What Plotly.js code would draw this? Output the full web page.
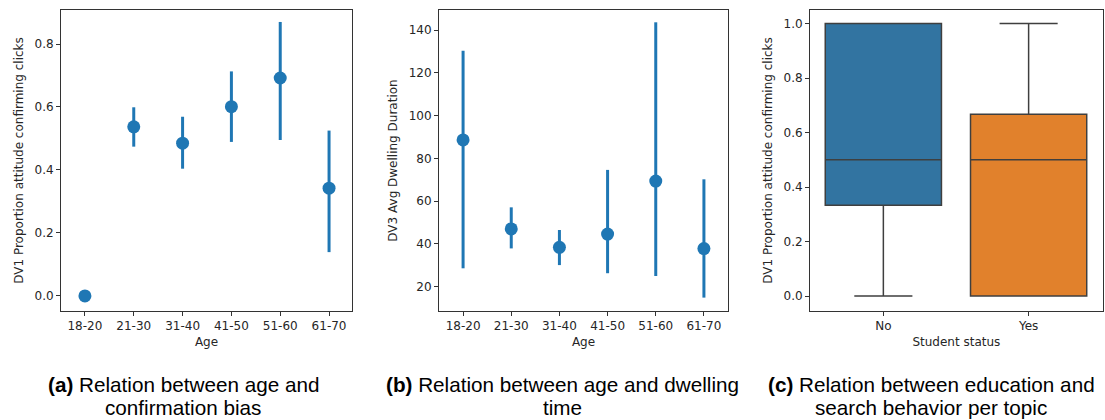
<!DOCTYPE html>
<html>
<head>
<meta charset="utf-8">
<script src="https://cdn.plot.ly/plotly-3.0.1.min.js"></script>
<style>html,body{margin:0;padding:0;background:#fff;}#chart{width:1105px;height:420px;}</style>
</head>
<body>
<div id="chart"></div>
<script>
// ---- data ----
const ageGroups = ["18-20", "21-30", "31-40", "41-50", "51-60", "61-70"];

// (a) DV1 proportion attitude confirming clicks by age
const dv1Mean = [0.0, 0.537, 0.485, 0.601, 0.692, 0.342];
const dv1CiLow = [0.0, 0.474, 0.404, 0.489, 0.495, 0.139];
const dv1CiHigh = [0.0, 0.599, 0.569, 0.713, 0.870, 0.525];

// (b) DV3 avg dwelling duration by age
const dv3Mean = [88.6, 47.0, 38.4, 44.6, 69.4, 37.8];
const dv3CiLow = [28.6, 37.9, 30.1, 26.3, 25.0, 14.9];
const dv3CiHigh = [130.3, 57.1, 46.5, 74.6, 143.6, 70.2];

// (c) DV1 by student status (box stats)
const studentStatus = ["No", "Yes"];
const boxQ1 = [0.333, 0.0];
const boxMedian = [0.5, 0.5];
const boxQ3 = [1.0, 0.667];
const boxLowFence = [0.0, 0.0];
const boxHighFence = [1.0, 1.0];
const boxColors = ["#3274a1", "#e1812c"];

const captions = [
  ["<b>(a)</b> Relation between age and", "confirmation bias"],
  ["<b>(b)</b> Relation between age and dwelling", "time"],
  ["<b>(c)</b> Relation between education and", "search behavior per topic"]
];

// ---- plot ----
const blue = "#1f77b4";
const txt = "#262626";
const FS = 12;
function errTrace(y, lo, hi, xa, ya) {
  return {
    type: "scatter", mode: "markers", x: ageGroups, y: y, xaxis: xa, yaxis: ya,
    marker: {color: blue, size: 13},
    error_y: {type: "data", symmetric: false,
      array: y.map((v, i) => hi[i] - v),
      arrayminus: y.map((v, i) => v - lo[i]),
      color: blue, thickness: 3, width: 0},
    showlegend: false, hoverinfo: "x+y"
  };
}
const traces = [
  errTrace(dv1Mean, dv1CiLow, dv1CiHigh, "x", "y"),
  errTrace(dv3Mean, dv3CiLow, dv3CiHigh, "x2", "y2")
];
studentStatus.forEach((s, i) => {
  traces.push({
    type: "box", xaxis: "x3", yaxis: "y3", x: [s],
    q1: [boxQ1[i]], median: [boxMedian[i]], q3: [boxQ3[i]],
    lowerfence: [boxLowFence[i]], upperfence: [boxHighFence[i]],
    fillcolor: boxColors[i], line: {color: "#3f3f3f", width: 1.5},
    width: 0.8, whiskerwidth: 0.5, boxpoints: false, showlegend: false
  });
});

const W = 1105, H = 420;
const yTop = 1 - 10 / H, yBot = 1 - 311 / H;
function xax(d, title, range) {
  return {domain: d, range: range, type: "category", showline: true, mirror: true,
    linecolor: "#333", linewidth: 1, ticks: "outside", ticklen: 4, tickcolor: "#333",
    showgrid: false, zeroline: false, tickfont: {family: "DejaVu Sans", size: FS, color: txt},
    title: {text: title, font: {family: "DejaVu Sans", size: FS, color: txt}, standoff: 5}};
}
function yax(title, range, dtick, fmt) {
  return {domain: [yBot, yTop], range: range, dtick: dtick, tick0: 0, tickformat: fmt,
    showline: true, mirror: true, linecolor: "#333", linewidth: 1, ticks: "outside", ticklen: 4,
    tickcolor: "#333", showgrid: false, zeroline: false,
    tickfont: {family: "DejaVu Sans", size: FS, color: txt},
    title: {text: title, font: {family: "DejaVu Sans", size: FS, color: txt}, standoff: 8}};
}
const annotations = [];
const capCenters = [183, 562, 931];
captions.forEach((c, i) => {
  c.forEach((line, j) => {
    annotations.push({text: line, xref: "paper", yref: "paper", x: capCenters[i] / W,
      y: 1 - (384 + j * 23) / H, xanchor: "center", yanchor: "middle", showarrow: false,
      font: {family: "Liberation Sans", size: 20.7, color: "#000"}});
  });
});
const layout = {
  width: W, height: H, margin: {l: 0, r: 0, t: 0, b: 0}, paper_bgcolor: "#fff", plot_bgcolor: "#fff",
  xaxis: Object.assign(xax([61 / W, 352 / W], "Age", [-0.49, 5.47]), {anchor: "y"}),
  yaxis: Object.assign(yax("DV1 Proportion attitude confirming clicks", [-0.048, 0.908], 0.2, ".1f"), {anchor: "x"}),
  xaxis2: Object.assign(xax([439 / W, 728 / W], "Age", [-0.5, 5.5]), {anchor: "y2"}),
  yaxis2: Object.assign(yax("DV3 Avg Dwelling Duration", [8.64, 149.35], 20, "d"), {anchor: "x2"}),
  xaxis3: Object.assign(xax([810 / W, 1102.7 / W], "Student status", [-0.505, 1.51]), {anchor: "y3"}),
  yaxis3: Object.assign(yax("DV1 Proportion attitude confirming clicks", [-0.055, 1.05], 0.2, ".1f"), {anchor: "x3"}),
  annotations: annotations, boxmode: "overlay"
};
Plotly.newPlot("chart", traces, layout, {displayModeBar: false, staticPlot: true});
</script>
</body>
</html>
